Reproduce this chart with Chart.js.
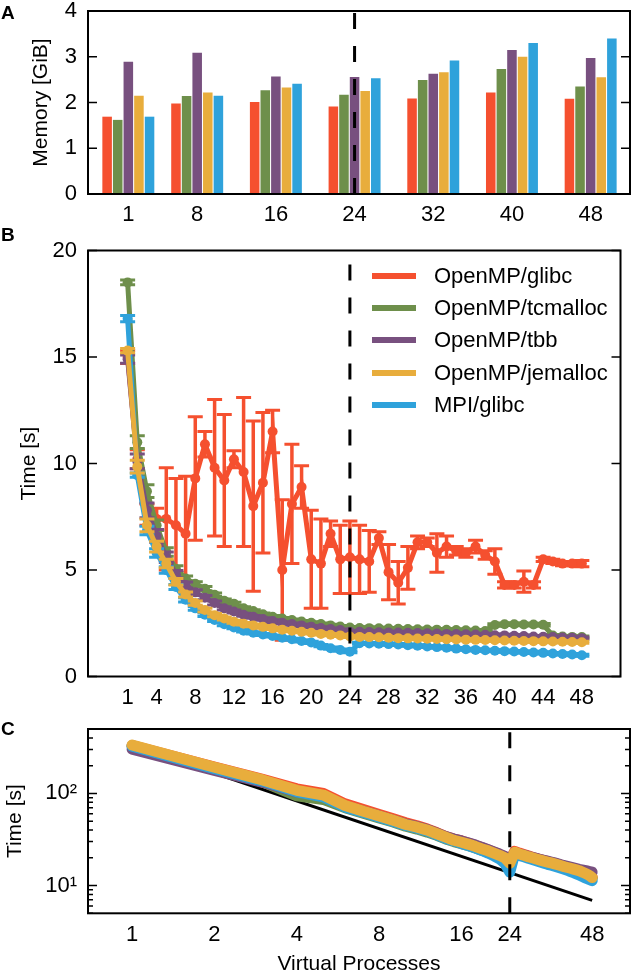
<!DOCTYPE html>
<html>
<head>
<meta charset="utf-8">
<script src="https://cdn.jsdelivr.net/npm/chart.js@4.4.1/dist/chart.umd.min.js"></script>
<style>
  body { margin: 0; background: #fff; }
  #wrap { position: relative; width: 631px; height: 975px; font-family: "Liberation Sans", Arial, Helvetica, sans-serif; color: #000; }
  canvas { position: absolute; left: 0; }
  .panel { position: absolute; left: 1px; font-size: 19px; font-weight: bold; line-height: 19px; }
  #legend { position: absolute; left: 372px; top: 260px; }
  .item { display: flex; align-items: center; height: 32.2px; font-size: 22px; }
  .swatch { width: 44px; height: 6px; margin-right: 18px; }
</style>
</head>
<body>
<div id="wrap">
  <canvas id="cA" width="631" height="240" style="top:0px"></canvas>
  <canvas id="cB" width="631" height="480" style="top:240px"></canvas>
  <canvas id="cC" width="631" height="255" style="top:720px"></canvas>
  <div class="panel" style="top:3px">A</div>
  <div class="panel" style="top:225px">B</div>
  <div class="panel" style="top:719px">C</div>
  <div id="legend"></div>
</div>
<script>
    // Series (legend order)
    const seriesNames = ['OpenMP/glibc', 'OpenMP/tcmalloc', 'OpenMP/tbb', 'OpenMP/jemalloc', 'MPI/glibc'];
    const seriesColors = ['#f5502f', '#6e8f4b', '#78507f', '#e8ad3c', '#2fa2db'];

    // Panel A: memory per run [GiB]
    const memProcs = [1, 8, 16, 24, 32, 40, 48];
    const memTicks = [0, 1, 2, 3, 4];
    const memGlibc = [1.69, 1.98, 2.01, 1.91, 2.09, 2.22, 2.08];
    const memTcmalloc = [1.62, 2.14, 2.27, 2.17, 2.49, 2.73, 2.35];
    const memTbb = [2.89, 3.09, 2.57, 2.56, 2.63, 3.15, 2.97];
    const memJemalloc = [2.15, 2.22, 2.33, 2.25, 2.66, 3.00, 2.55];
    const memMpi = [1.69, 2.15, 2.41, 2.53, 2.92, 3.30, 3.40];

    // Panel B: time [s] vs virtual processes, with error bars
    const procs = [1, 2, 3, 4, 5, 6, 7, 8, 9, 10, 11, 12, 13, 14, 15, 16, 17, 18, 19, 20, 21, 22, 23, 24,
                   25, 26, 27, 28, 29, 30, 31, 32, 33, 34, 35, 36, 37, 38, 39, 40, 41, 42, 43, 44, 45, 46, 47, 48];
    const procTicksB = [1, 4, 8, 12, 16, 20, 24, 28, 32, 36, 40, 44, 48];
    const timeTicksB = [0, 5, 10, 15, 20];
    const tGlibc = [15.0, 10.2, 7.6, 7.4, 7.4, 7.1, 6.7, 9.3, 10.9, 9.8, 9.2, 10.2, 9.6, 8.0, 9.1, 11.5, 5.0, 8.1, 8.9, 5.5, 5.3, 6.7, 5.5, 5.6,
                    5.5, 5.4, 6.5, 4.9, 4.4, 5.1, 6.3, 6.3, 5.8, 6.1, 5.9, 5.8, 6.1, 5.7, 5.4, 4.3, 4.3, 4.45, 4.3, 5.5, 5.4, 5.3, 5.3, 5.3];
    const eGlibc = [0.3, 0.45, 0.5, 0.5, 2.4, 2.2, 2.7, 2.9, 0.6, 3.2, 3.1, 0.4, 3.5, 4.0, 3.3, 1.0, 3.3, 2.8, 1.0, 2.3, 2.1, 0.6, 1.6, 1.7,
                    1.6, 1.45, 0.3, 1.3, 1.0, 1.0, 0.3, 0.2, 0.9, 0.5, 0.2, 0.2, 0.3, 0.2, 0.6, 0.15, 0.15, 0.5, 0.15, 0.1, 0.1, 0.1, 0.1, 0.15];
    const tTcmalloc = [18.5, 11.0, 8.7, 7.1, 5.85, 5.05, 4.6, 4.35, 4.12, 3.84, 3.56, 3.42, 3.2, 3.07, 2.92, 2.8, 2.72, 2.65, 2.58, 2.52, 2.46, 2.4, 2.35, 2.3,
                       2.28, 2.27, 2.26, 2.25, 2.24, 2.23, 2.22, 2.21, 2.2, 2.19, 2.18, 2.17, 2.16, 2.14, 2.42, 2.45, 2.45, 2.44, 2.44, 2.43, 1.92, 1.88, 1.86, 1.85];
    const eTcmalloc = [0.11, 0.3, 0.3, 0.25, 0.2, 0.15, 0.12, 0.1, 0.1, 0.08, 0.08, 0.07, 0.07, 0.06, 0.06, 0.06, 0.05, 0.05, 0.05, 0.05, 0.05, 0.05, 0.05, 0.05,
                       0.05, 0.05, 0.05, 0.05, 0.05, 0.05, 0.05, 0.05, 0.05, 0.05, 0.05, 0.05, 0.05, 0.05, 0.06, 0.06, 0.06, 0.06, 0.06, 0.06, 0.05, 0.05, 0.05, 0.05];
    const tTbb = [14.9, 10.1, 7.8, 6.6, 5.6, 4.8, 4.3, 3.95, 3.7, 3.45, 3.2, 3.05, 2.9, 2.8, 2.7, 2.6, 2.52, 2.46, 2.4, 2.34, 2.28, 2.23, 2.18, 2.1,
                  2.1, 2.09, 2.08, 2.07, 2.06, 2.05, 2.04, 2.03, 2.02, 2.0, 1.99, 1.98, 1.97, 1.96, 1.94, 1.93, 1.91, 1.9, 1.88, 1.87, 1.85, 1.83, 1.82, 1.8];
    const eTbb = [0.19, 0.35, 0.35, 0.3, 0.25, 0.18, 0.14, 0.12, 0.1, 0.09, 0.08, 0.07, 0.07, 0.06, 0.06, 0.06, 0.05, 0.05, 0.05, 0.05, 0.05, 0.05, 0.05, 0.05,
                  0.05, 0.05, 0.05, 0.05, 0.05, 0.05, 0.05, 0.05, 0.05, 0.05, 0.05, 0.05, 0.05, 0.05, 0.05, 0.05, 0.05, 0.05, 0.05, 0.05, 0.05, 0.05, 0.05, 0.05];
    const tJemalloc = [15.3, 9.85, 7.1, 6.1, 5.3, 4.45, 3.85, 3.45, 3.12, 2.88, 2.72, 2.57, 2.48, 2.4, 2.33, 2.26, 2.2, 2.15, 2.1, 2.05, 2.0, 1.96, 1.93, 1.88,
                       1.86, 1.85, 1.84, 1.82, 1.8, 1.79, 1.78, 1.77, 1.76, 1.75, 1.74, 1.73, 1.72, 1.71, 1.7, 1.69, 1.68, 1.67, 1.66, 1.65, 1.64, 1.63, 1.62, 1.61];
    const eJemalloc = [0.1, 0.3, 0.3, 0.25, 0.2, 0.15, 0.12, 0.1, 0.09, 0.08, 0.07, 0.07, 0.06, 0.06, 0.06, 0.05, 0.05, 0.05, 0.05, 0.05, 0.05, 0.05, 0.05, 0.05,
                       0.05, 0.05, 0.05, 0.05, 0.05, 0.05, 0.05, 0.05, 0.05, 0.05, 0.05, 0.05, 0.05, 0.05, 0.05, 0.05, 0.05, 0.05, 0.05, 0.05, 0.05, 0.05, 0.05, 0.05];
    const tMpi = [16.8, 9.45, 6.85, 5.8, 5.0, 4.2, 3.6, 3.2, 2.9, 2.65, 2.45, 2.3, 2.15, 2.05, 1.97, 1.9, 1.82, 1.75, 1.67, 1.6, 1.45, 1.33, 1.24, 1.16,
                  1.56, 1.55, 1.54, 1.52, 1.5, 1.47, 1.44, 1.41, 1.38, 1.35, 1.31, 1.28, 1.25, 1.23, 1.21, 1.19, 1.17, 1.15, 1.13, 1.11, 1.08, 1.06, 1.03, 1.0];
    const eMpi = [0.15, 0.1, 0.2, 0.2, 0.15, 0.12, 0.1, 0.09, 0.08, 0.07, 0.07, 0.06, 0.06, 0.05, 0.05, 0.05, 0.05, 0.05, 0.05, 0.05, 0.05, 0.05, 0.05, 0.05,
                  0.05, 0.05, 0.05, 0.05, 0.05, 0.05, 0.05, 0.05, 0.05, 0.05, 0.05, 0.05, 0.05, 0.05, 0.05, 0.05, 0.05, 0.05, 0.05, 0.05, 0.05, 0.05, 0.05, 0.05];

    // Panel C: time [s], log-log, plus ideal scaling line
    const procTicksC = [1, 2, 4, 8, 16, 24, 48];
    const timeTicksC = [5, 6, 7, 8, 9, 10, 20, 30, 40, 50, 60, 70, 80, 90, 100, 200, 300, 400, 500];
    const timeMajorC = [10, 100];
    const cGlibc = [330, 193, 142, 112, 100, 77, 67, 59, 53, 48, 44.5, 41, 37.5, 34, 32, 30.5, 28.8, 27.2, 25.7, 24.3, 23, 21.8, 20.5, 18.5,
                    23.5, 22.5, 21.7, 21, 20.3, 19.7, 19.2, 18.7, 18.2, 17.8, 17.4, 17, 16.6, 16.2, 15.9, 15.6, 15.3, 15, 14.6, 14.2, 13.8, 13.4, 12.9, 12.4];
    const cTcmalloc = [328, 185, 133, 94, 86, 70, 61, 54, 49, 44, 41, 38, 35, 32, 30, 28.5, 27, 25.6, 24.2, 23, 21.9, 20.8, 19.6, 17,
                       22.5, 21.6, 21, 20.3, 19.6, 19, 18.5, 18, 17.6, 17.2, 16.8, 16.4, 16, 15.6, 15.3, 15, 14.7, 14.4, 14.1, 13.7, 13.3, 12.9, 12.5, 12];
    const cTbb = [302, 178, 132, 104, 94, 73, 64, 57, 51, 46.5, 43.5, 40.5, 37, 34, 32, 30.5, 29, 27.5, 26, 24.5, 23.2, 22, 20.8, 18.5,
                  22.8, 22, 21.4, 20.8, 20.2, 19.7, 19.2, 18.8, 18.4, 18, 17.6, 17.2, 16.8, 16.5, 16.2, 15.9, 15.6, 15.3, 15, 14.8, 14.6, 14.4, 14.2, 14];
    const cJemalloc = [335, 192, 140, 108, 96, 74, 64, 57, 51, 46, 43, 40, 36.5, 33.5, 31, 29.5, 28, 26.5, 25, 23.8, 22.5, 21.3, 20, 17.5,
                       23, 22, 21.3, 20.6, 20, 19.4, 18.9, 18.4, 18, 17.6, 17.2, 16.8, 16.4, 16, 15.7, 15.4, 15.1, 14.8, 14.5, 14.1, 13.7, 13.3, 12.8, 12.2];
    const cMpi = [325, 186, 136, 104, 92, 71, 62, 55, 49.5, 45, 42, 39, 35.5, 32.5, 30.5, 28.5, 27, 25.5, 24, 22.5, 21, 19.5, 17.5, 14,
                  22, 21.2, 20.5, 19.8, 19.2, 18.6, 18, 17.5, 17, 16.6, 16.2, 15.8, 15.4, 15, 14.6, 14.2, 13.8, 13.4, 13, 12.6, 12.2, 11.9, 11.6, 11.3];
    const idealProcs = [1, 48];
    const idealTime = [331, 6.9];

    // dashed marker at 24 processes
    const splitProcs = 24;

    Chart.defaults.font.family = '"Liberation Sans", Arial, Helvetica, sans-serif';
    Chart.defaults.font.size = 22;
    Chart.defaults.color = '#000';

    const pts = (xs, ys) => xs.map((x, i) => ({ x, y: ys[i] }));

    // frame round the plot area, inward ticks on both sides
    const framePlugin = {
      id: 'frame',
      afterDraw(chart) {
        const { ctx, chartArea: a } = chart;
        const ys = chart.scales.y;
        ctx.save();
        ctx.strokeStyle = '#000';
        ctx.lineWidth = 1.5;
        ctx.beginPath();
        ys.ticks.forEach(t => {
          const p = ys.getPixelForValue(t.value);
          const len = t.major ? 9 : 5;
          ctx.moveTo(a.left, p); ctx.lineTo(a.left + len, p);
          ctx.moveTo(a.right, p); ctx.lineTo(a.right - len, p);
        });
        ctx.stroke();
        ctx.lineWidth = 2;
        ctx.strokeRect(a.left, a.top, a.right - a.left, a.bottom - a.top);
        ctx.restore();
      }
    };

    // fixed axis boxes so the plot areas line up with the figure
    const noPad = s => { s.paddingTop = 0; s.paddingBottom = 0; s.paddingLeft = 0; s.paddingRight = 0; };

    function baseOptions(padTop, xHeight) {
      return {
        responsive: false,
        animation: false,
        layout: { padding: { top: padTop, right: 1, left: 0, bottom: 0 } },
        plugins: { legend: { display: false }, tooltip: { enabled: false } },
        scales: {
          x: {
            offset: false,
            grid: { display: false, drawTicks: false },
            border: { display: false },
            ticks: { autoSkip: false, maxRotation: 0, minRotation: 0, padding: 8, callback: v => String(v) },
            afterFit: s => { s.height = xHeight; noPad(s); }
          },
          y: {
            grid: { display: false, drawTicks: false },
            border: { display: false },
            ticks: { autoSkip: false, padding: 11 },
            afterFit: s => { s.width = 88; noPad(s); }
          }
        }
      };
    }

    const titleFont = { size: 21, lineHeight: 1 };

    const dashed = (y0, y1) => ({
      type: 'line', data: [{ x: splitProcs, y: y0 }, { x: splitProcs, y: y1 }],
      borderColor: '#000', borderWidth: 3, borderDash: [16, 17], pointRadius: 0, order: 0
    });

    // ---------- Panel A ----------
    const memSeries = [memGlibc, memTcmalloc, memTbb, memJemalloc, memMpi];
    const optA = baseOptions(11, 46);
    Object.assign(optA.scales.x, { type: 'linear', min: -3.1, max: 52 });
    optA.scales.x.afterBuildTicks = s => { s.ticks = memProcs.map(v => ({ value: v, major: true })); };
    Object.assign(optA.scales.y, { type: 'linear', min: 0, max: 4 });
    optA.scales.y.afterBuildTicks = s => { s.ticks = memTicks.map(v => ({ value: v, major: true })); };
    optA.scales.y.title = { display: true, text: 'Memory [GiB]', font: titleFont, padding: { top: 30.5, bottom: 0 } };

    new Chart(document.getElementById('cA'), {
      type: 'bar',
      data: {
        datasets: [
          ...memSeries.map((vals, k) => ({
            label: seriesNames[k], data: pts(memProcs, vals), backgroundColor: seriesColors[k],
            categoryPercentage: 0.77, barPercentage: 0.9, order: 1
          })),
          dashed(0, 4)
        ]
      },
      options: optA,
      plugins: [framePlugin]
    });

    // ---------- Panel B ----------
    const timeSeries = [tGlibc, tTcmalloc, tTbb, tJemalloc, tMpi];
    const timeErrors = [eGlibc, eTcmalloc, eTbb, eJemalloc, eMpi];
    const drawOrderB = [9, 7, 5, 1, 3];   // lower draws on top
    const datasetsB = [];
    timeSeries.forEach((vals, k) => {
      const c = seriesColors[k], o = drawOrderB[k], err = timeErrors[k];
      datasetsB.push({
        type: 'line', label: seriesNames[k], data: pts(procs, vals),
        borderColor: c, backgroundColor: c, borderWidth: 5,
        pointRadius: 5, pointBorderWidth: 0, pointBackgroundColor: c, order: o
      });
      datasetsB.push({
        type: 'bar', data: procs.map((p, i) => ({ x: p, y: [vals[i] - err[i], vals[i] + err[i]] })),
        backgroundColor: c, grouped: false, maxBarThickness: 3.5, order: o + 0.5
      });
      datasetsB.push({
        type: 'line', showLine: false,
        data: procs.flatMap((p, i) => [{ x: p, y: vals[i] - err[i] }, { x: p, y: vals[i] + err[i] }]),
        pointStyle: 'line', pointRadius: 7.5, pointBorderWidth: 3, pointBorderColor: c, order: o + 0.5
      });
    });
    datasetsB.push(dashed(0, 20));

    const optB = baseOptions(7, 43.5);
    Object.assign(optB.scales.x, { type: 'linear', min: -3.1, max: 52 });
    optB.scales.x.afterBuildTicks = s => { s.ticks = procTicksB.map(v => ({ value: v, major: true })); };
    Object.assign(optB.scales.y, { type: 'linear', min: 0, max: 20 });
    optB.scales.y.afterBuildTicks = s => { s.ticks = timeTicksB.map(v => ({ value: v, major: true })); };
    optB.scales.y.title = { display: true, text: 'Time [s]', font: titleFont, padding: { top: 18.5, bottom: 0 } };

    new Chart(document.getElementById('cB'), {
      type: 'line',
      data: { datasets: datasetsB },
      options: optB,
      plugins: [framePlugin]
    });

    // legend for panel B
    const legend = document.getElementById('legend');
    seriesNames.forEach((name, k) => {
      const row = document.createElement('div');
      row.className = 'item';
      row.innerHTML = `<span class="swatch" style="background:${seriesColors[k]}"></span><span>${name}</span>`;
      legend.appendChild(row);
    });

    // ---------- Panel C ----------
    const cSeries = [cGlibc, cTcmalloc, cTbb, cJemalloc, cMpi];
    const drawOrderC = [5, 4, 3, 1, 2];
    const datasetsC = cSeries.map((vals, k) => ({
      type: 'line', label: seriesNames[k], data: pts(procs, vals),
      borderColor: seriesColors[k], borderWidth: 11, borderCapStyle: 'round', borderJoinStyle: 'round',
      pointRadius: 0, order: drawOrderC[k]
    }));
    datasetsC.push({ type: 'line', data: pts(idealProcs, idealTime), borderColor: '#000', borderWidth: 3, pointRadius: 0, order: 8 });
    datasetsC.push(dashed(5, 500));

    const optC = baseOptions(9, 61.7);
    Object.assign(optC.scales.x, { type: 'logarithmic', min: 0.69, max: 66 });
    optC.scales.x.afterBuildTicks = s => { s.ticks = procTicksC.map(v => ({ value: v, major: true })); };
    optC.scales.x.title = { display: true, text: 'Virtual Processes', font: titleFont, padding: { top: 0, bottom: 0 } };
    Object.assign(optC.scales.y, { type: 'logarithmic', min: 5, max: 500 });
    optC.scales.y.afterBuildTicks = s => { s.ticks = timeTicksC.map(v => ({ value: v, major: timeMajorC.includes(v) })); };
    optC.scales.y.ticks.callback = v => (v === 100 ? '10\u00b2' : v === 10 ? '10\u00b9' : '');
    optC.scales.y.title = { display: true, text: 'Time [s]', font: titleFont, padding: { top: 4.5, bottom: 0 } };

    new Chart(document.getElementById('cC'), {
      type: 'line',
      data: { datasets: datasetsC },
      options: optC,
      plugins: [framePlugin]
    });
</script>
</body>
</html>
